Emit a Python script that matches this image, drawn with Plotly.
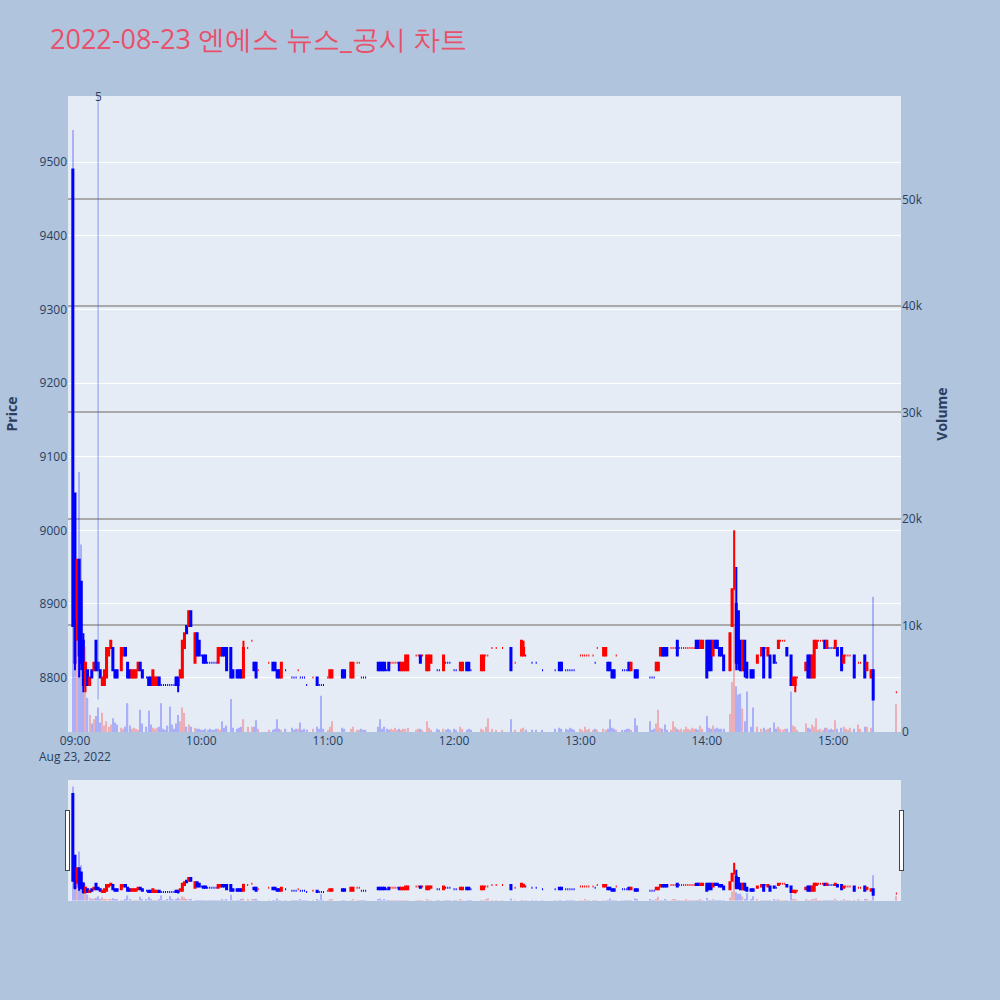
import datetime as dt
import plotly.graph_objects as go

# minutes after 09:00 for each 1-minute bar
minutes = [-1, 0, 1, 2, 3, 4, 5, 6, 7, 8, 9, 10, 11, 12, 13, 14, 15, 16, 17, 18, 19, 20,
           22, 23, 24, 25, 26, 27, 28, 29, 30, 31, 32, 34, 35, 36, 37, 38, 39, 40,
           41, 42, 43, 44, 45, 46, 47, 48, 49, 50, 51, 52, 53, 54, 55, 57, 58, 59, 60,
           61, 62, 63, 64, 65, 66, 67, 68, 69, 70, 71, 72, 74, 75, 77, 78, 79, 80, 82,
           84, 85, 86, 87, 92, 94, 95, 96, 97, 98, 100, 103, 104, 105, 106, 107, 108,
           109, 110, 113, 115, 116, 117, 118, 120, 121, 122, 127, 128, 131, 132, 134,
           135, 136, 137, 138, 144, 145, 146, 147, 148, 149, 150, 151, 152, 153, 154,
           155, 156, 157, 158, 162, 163, 164, 165, 167, 168, 169, 172, 173, 175, 176,
           177, 178, 180, 181, 183, 184, 186, 187, 188, 193, 194, 195, 196, 198, 200,
           203, 207, 209, 212, 213, 214, 217, 219, 222, 228, 230, 231, 233, 234, 235,
           236, 237, 240, 241, 242, 243, 244, 246, 247, 248, 251, 252, 253, 254, 255,
           256, 257, 260, 261, 262, 263, 264, 266, 267, 273, 274, 275, 276, 277, 278,
           279, 280, 281, 283, 284, 285, 286, 287, 288, 289, 290, 291, 292, 293, 294,
           295, 296, 297, 298, 300, 301, 302, 303, 304, 305, 306, 307, 308, 311, 312,
           313, 314, 315, 316, 317, 318, 319, 321, 322, 324, 326, 327, 328, 329, 330,
           332, 333, 334, 335, 336, 337, 338, 340, 341, 342, 343, 347, 348, 349, 350,
           351, 352, 353, 354, 355, 356, 357, 358, 359, 360, 361, 362, 364, 365, 366,
           367, 368, 370, 372, 373, 375, 376, 378, 379, 390]

opens = [9490, 9050, 8880, 8960, 8930, 8850, 8790, 8810, 8790, 8810, 8810, 8850, 8820, 8810, 8790, 8790, 8800, 8830, 8840, 8840, 8810, 8810,
         8810, 8830, 8840, 8820, 8810, 8800, 8800, 8800, 8810, 8820, 8810, 8800, 8800, 8800, 8790, 8790, 8790, 8800,
         8790, 8790, 8790, 8790, 8790, 8790, 8790, 8800, 8800, 8800, 8800, 8840, 8870, 8870, 8890, 8820, 8860, 8850, 8830,
         8830, 8830, 8820, 8820, 8820, 8820, 8820, 8820, 8830, 8840, 8840, 8840, 8840, 8810, 8810, 8810, 8810, 8800, 8840,
         8850, 8820, 8820, 8810, 8820, 8820, 8820, 8810, 8810, 8800, 8810, 8800, 8800, 8800, 8810, 8800, 8800,
         8800, 8790, 8800, 8800, 8790, 8790, 8790, 8800, 8800, 8800, 8810, 8810, 8800, 8800, 8820,
         8820, 8800, 8800, 8800, 8820, 8820, 8820, 8820, 8810, 8820, 8820, 8820, 8820, 8820, 8820,
         8810, 8810, 8810, 8810, 8830, 8830, 8830, 8830, 8810, 8810, 8820, 8810, 8810, 8810, 8820,
         8820, 8820, 8810, 8810, 8810, 8810, 8820, 8820, 8810, 8810, 8810, 8830, 8830, 8840, 8840,
         8840, 8840, 8820, 8830, 8830, 8830, 8820, 8820, 8810, 8810, 8820, 8820, 8810, 8810, 8810,
         8810, 8810, 8830, 8830, 8830, 8830, 8830, 8830, 8820, 8840, 8830, 8830, 8820, 8820, 8810,
         8810, 8830, 8810, 8810, 8810, 8820, 8810, 8810, 8810, 8800, 8800, 8800, 8810, 8810, 8830,
         8840, 8840, 8840, 8840, 8840, 8840, 8850, 8840, 8840, 8840, 8840, 8840, 8840, 8840, 8840,
         8850, 8850, 8840, 8840, 8850, 8850, 8850, 8830, 8850, 8850, 8840, 8840, 8830, 8810, 8870,
         8920, 8900, 8890, 8850, 8810, 8850, 8820, 8810, 8810, 8820, 8830, 8840, 8840, 8830, 8830,
         8830, 8820, 8840, 8850, 8850, 8850, 8840, 8830, 8790, 8790, 8800, 8810, 8830, 8830, 8800,
         8800, 8840, 8850, 8850, 8850, 8850, 8840, 8840, 8840, 8840, 8840, 8840, 8840, 8820, 8830,
         8830, 8830, 8830, 8820, 8820, 8830, 8810, 8800, 8810, 8780]

highs = [9490, 9050, 8960, 8960, 8930, 8860, 8820, 8810, 8800, 8810, 8820, 8850, 8820, 8810, 8800, 8810, 8840, 8840, 8850, 8840, 8810, 8810,
         8840, 8840, 8840, 8820, 8810, 8810, 8810, 8810, 8820, 8820, 8810, 8800, 8800, 8800, 8810, 8800, 8800, 8800,
         8790, 8790, 8790, 8790, 8790, 8790, 8790, 8800, 8800, 8810, 8850, 8860, 8870, 8890, 8890, 8860, 8860, 8850, 8830,
         8830, 8830, 8820, 8820, 8820, 8820, 8820, 8840, 8840, 8840, 8840, 8840, 8840, 8810, 8810, 8810, 8810, 8850, 8840,
         8850, 8820, 8820, 8810, 8820, 8820, 8820, 8810, 8810, 8820, 8810, 8800, 8800, 8800, 8810, 8800, 8800,
         8800, 8790, 8800, 8800, 8790, 8790, 8790, 8800, 8810, 8810, 8810, 8810, 8820, 8820, 8820,
         8820, 8800, 8800, 8800, 8820, 8820, 8820, 8820, 8810, 8820, 8820, 8820, 8820, 8820, 8820,
         8820, 8820, 8830, 8830, 8830, 8830, 8830, 8830, 8830, 8830, 8830, 8810, 8810, 8830, 8820,
         8820, 8820, 8810, 8810, 8820, 8820, 8820, 8820, 8810, 8830, 8830, 8830, 8830, 8840, 8840,
         8840, 8840, 8820, 8850, 8850, 8830, 8820, 8820, 8810, 8810, 8820, 8820, 8810, 8810, 8810,
         8810, 8810, 8830, 8830, 8830, 8830, 8830, 8830, 8820, 8840, 8840, 8840, 8820, 8820, 8810,
         8810, 8830, 8810, 8810, 8810, 8820, 8820, 8810, 8810, 8800, 8800, 8800, 8820, 8820, 8840,
         8840, 8840, 8840, 8840, 8840, 8840, 8850, 8840, 8840, 8840, 8840, 8840, 8840, 8840, 8840,
         8850, 8850, 8850, 8850, 8850, 8850, 8850, 8850, 8850, 8850, 8840, 8840, 8830, 8860, 8920,
         9000, 8950, 8890, 8850, 8850, 8850, 8820, 8810, 8810, 8830, 8840, 8840, 8840, 8840, 8830,
         8830, 8820, 8850, 8850, 8850, 8850, 8840, 8830, 8800, 8800, 8800, 8820, 8830, 8830, 8830,
         8850, 8850, 8850, 8850, 8850, 8850, 8850, 8840, 8840, 8840, 8850, 8840, 8840, 8830, 8830,
         8830, 8830, 8830, 8820, 8820, 8830, 8820, 8810, 8810, 8780]

lows = [8870, 8810, 8850, 8800, 8810, 8780, 8780, 8790, 8790, 8800, 8810, 8810, 8810, 8800, 8790, 8790, 8800, 8830, 8840, 8810, 8800, 8800,
        8810, 8830, 8830, 8800, 8800, 8800, 8800, 8800, 8810, 8810, 8800, 8800, 8790, 8790, 8790, 8790, 8790, 8790,
        8790, 8790, 8790, 8790, 8790, 8790, 8790, 8790, 8780, 8800, 8800, 8840, 8860, 8870, 8870, 8820, 8830, 8830, 8830,
        8820, 8820, 8820, 8820, 8820, 8820, 8820, 8820, 8830, 8830, 8830, 8810, 8800, 8800, 8800, 8800, 8800, 8800, 8840,
        8850, 8810, 8800, 8810, 8820, 8810, 8810, 8800, 8800, 8800, 8810, 8800, 8800, 8800, 8810, 8800, 8800,
        8800, 8790, 8800, 8790, 8790, 8790, 8790, 8800, 8800, 8800, 8800, 8800, 8800, 8800, 8820,
        8820, 8800, 8800, 8800, 8810, 8810, 8810, 8810, 8810, 8810, 8820, 8820, 8820, 8820, 8810,
        8810, 8810, 8810, 8810, 8830, 8830, 8820, 8830, 8810, 8810, 8820, 8810, 8810, 8810, 8820,
        8820, 8820, 8810, 8810, 8810, 8810, 8810, 8810, 8810, 8810, 8810, 8830, 8830, 8840, 8840,
        8840, 8810, 8820, 8830, 8830, 8830, 8820, 8820, 8810, 8810, 8810, 8810, 8810, 8810, 8810,
        8810, 8810, 8830, 8830, 8830, 8830, 8830, 8830, 8820, 8840, 8830, 8830, 8810, 8810, 8800,
        8800, 8830, 8810, 8810, 8810, 8810, 8810, 8800, 8800, 8800, 8800, 8800, 8810, 8810, 8830,
        8830, 8830, 8830, 8840, 8840, 8840, 8830, 8840, 8840, 8840, 8840, 8840, 8840, 8840, 8840,
        8840, 8840, 8840, 8840, 8800, 8810, 8810, 8830, 8840, 8840, 8830, 8830, 8810, 8810, 8870,
        8920, 8810, 8810, 8810, 8810, 8800, 8800, 8800, 8800, 8820, 8830, 8800, 8840, 8830, 8800,
        8820, 8820, 8840, 8850, 8850, 8850, 8830, 8790, 8790, 8780, 8800, 8810, 8800, 8800, 8800,
        8800, 8840, 8850, 8850, 8850, 8840, 8840, 8840, 8840, 8840, 8840, 8830, 8810, 8820, 8830,
        8830, 8830, 8800, 8820, 8820, 8800, 8810, 8800, 8770, 8780]

closes = [8870, 8820, 8960, 8830, 8820, 8790, 8820, 8790, 8800, 8800, 8820, 8810, 8810, 8800, 8800, 8810, 8840, 8840, 8850, 8810, 8800, 8800,
          8840, 8840, 8830, 8800, 8800, 8810, 8810, 8810, 8820, 8810, 8800, 8800, 8790, 8790, 8810, 8800, 8800, 8790,
          8790, 8790, 8790, 8790, 8790, 8790, 8790, 8790, 8790, 8810, 8850, 8860, 8860, 8890, 8870, 8860, 8830, 8830, 8830,
          8820, 8820, 8820, 8820, 8820, 8820, 8820, 8840, 8840, 8830, 8830, 8810, 8800, 8800, 8800, 8800, 8800, 8840, 8840,
          8850, 8810, 8800, 8810, 8820, 8810, 8810, 8800, 8800, 8820, 8810, 8800, 8800, 8800, 8810, 8800, 8800,
          8800, 8790, 8800, 8790, 8790, 8790, 8790, 8800, 8810, 8810, 8800, 8800, 8820, 8820, 8820,
          8820, 8800, 8800, 8800, 8810, 8810, 8810, 8810, 8810, 8810, 8820, 8820, 8820, 8820, 8810,
          8820, 8820, 8830, 8830, 8830, 8830, 8820, 8830, 8830, 8830, 8830, 8810, 8810, 8830, 8820,
          8820, 8820, 8810, 8810, 8820, 8820, 8810, 8810, 8810, 8830, 8830, 8830, 8830, 8840, 8840,
          8840, 8810, 8820, 8850, 8840, 8830, 8820, 8820, 8810, 8810, 8810, 8810, 8810, 8810, 8810,
          8810, 8810, 8830, 8830, 8830, 8830, 8830, 8830, 8820, 8840, 8840, 8840, 8810, 8810, 8800,
          8800, 8830, 8810, 8810, 8810, 8810, 8820, 8800, 8800, 8800, 8800, 8800, 8820, 8820, 8840,
          8830, 8830, 8830, 8840, 8840, 8840, 8830, 8840, 8840, 8840, 8840, 8840, 8840, 8840, 8840,
          8840, 8840, 8850, 8850, 8800, 8810, 8810, 8850, 8840, 8840, 8830, 8830, 8810, 8860, 8920,
          8920, 8820, 8820, 8810, 8850, 8810, 8800, 8800, 8800, 8830, 8840, 8800, 8840, 8840, 8800,
          8820, 8820, 8850, 8850, 8850, 8850, 8830, 8790, 8800, 8800, 8800, 8820, 8800, 8800, 8830,
          8850, 8850, 8850, 8850, 8850, 8840, 8850, 8840, 8840, 8840, 8850, 8830, 8810, 8830, 8830,
          8830, 8830, 8800, 8820, 8820, 8800, 8820, 8810, 8770, 8780]

volumes = [56500, 10000, 9000, 24400, 17600, 8500, 8000, 3200, 1600, 800, 1200, 1500, 2300, 900, 1800, 600, 1000, 500, 700, 1300, 900, 700,
           400, 300, 500, 2700, 600, 300, 400, 300, 200, 2100, 800, 500, 2000, 700, 400, 300, 400, 500,
           2700, 300, 200, 600, 2400, 700, 300, 800, 1600, 1000, 2300, 1800, 500, 700, 500, 400, 300, 300, 200,
           200, 300, 200, 300, 200, 200, 300, 300, 200, 1000, 400, 600, 3100, 400, 300, 400, 500, 1200, 500,
           500, 500, 1100, 300, 200, 200, 300, 1200, 300, 200, 300, 400, 200, 300, 300, 900, 200,
           300, 200, 300, 500, 300, 3400, 300, 200, 500, 1000, 400, 300, 300, 500, 200,
           200, 300, 200, 200, 500, 1200, 300, 500, 300, 200, 300, 200, 400, 200, 300,
           200, 300, 300, 400, 200, 300, 300, 200, 1000, 400, 200, 300, 200, 300, 200,
           300, 200, 300, 200, 500, 300, 200, 300, 200, 300, 200, 500, 1300, 300, 200,
           200, 1200, 200, 300, 400, 200, 200, 200, 200, 300, 400, 300, 300, 200, 400,
           300, 200, 300, 200, 500, 200, 300, 200, 300, 200, 300, 200, 300, 1200, 400,
           300, 200, 200, 200, 300, 300, 200, 1300, 600, 1000, 200, 300, 800, 2100, 400,
           300, 700, 200, 200, 1000, 500, 300, 200, 300, 200, 500, 300, 200, 400, 300,
           300, 200, 600, 300, 1500, 400, 300, 600, 300, 400, 300, 300, 300, 1700, 4700,
           18800, 4300, 3500, 3600, 2200, 1000, 3800, 500, 2300, 500, 300, 400, 200, 300, 400,
           900, 300, 500, 300, 200, 300, 300, 3800, 600, 500, 200, 800, 400, 300, 700,
           500, 1300, 200, 300, 200, 400, 400, 200, 300, 200, 1100, 300, 400, 500, 300,
           200, 400, 300, 700, 300, 500, 500, 400, 12700, 2600]

marker_minute = 11        # 09:11 news marker
marker_label = "5"
marker_low = 8770

price_range = [8726, 9590]
volume_range = [0, 59700]
x_range_minutes = [-3.3, 392.2]

base = dt.datetime(2022, 8, 23, 9, 0)
times = [base + dt.timedelta(minutes=m) for m in minutes]
x_range = [base + dt.timedelta(minutes=v) for v in x_range_minutes]

# volume colours follow candle direction
vol_colors = []
prev_c, prev_dir = None, 1
for o, c in zip(opens, closes):
    if c > o:
        d = 1
    elif c < o:
        d = -1
    else:
        if prev_c is None or c == prev_c:
            d = prev_dir
        else:
            d = 1 if c > prev_c else -1
    vol_colors.append("red" if d == 1 else "blue")
    prev_c, prev_dir = c, d

fig = go.Figure()
fig.add_trace(go.Candlestick(
    x=times, open=opens, high=highs, low=lows, close=closes,
    increasing=dict(line=dict(color="red"), fillcolor="red"),
    decreasing=dict(line=dict(color="blue"), fillcolor="blue"),
    name="Price", showlegend=False,
))
fig.add_trace(go.Bar(
    x=times, y=volumes, marker=dict(color=vol_colors, line=dict(width=0)),
    opacity=0.25, yaxis="y2", name="Volume", showlegend=False,
))

mt = base + dt.timedelta(minutes=marker_minute)
fig.add_shape(type="line", xref="x", yref="y", x0=mt, x1=mt,
              y0=marker_low, y1=price_range[1],
              line=dict(color="rgba(65,105,225,0.4)", width=1.5))
fig.add_annotation(x=mt, xref="x", y=1, yref="paper", text=marker_label,
                   showarrow=False, xanchor="center", yanchor="middle",
                   font=dict(size=12, color="#2a3f5f"))

fig.update_layout(
    template="plotly",
    width=1000, height=1000,
    paper_bgcolor="#B0C4DE",
    plot_bgcolor="#E5ECF6",
    title=dict(text="2022-08-23 엔에스 뉴스_공시 차트", x=0.05, y=0.96,
               xanchor="left", yanchor="middle",
               font=dict(size=27, color="#E9506A")),
    margin=dict(l=68, r=99, t=96, b=100),
    bargap=0.4,
    xaxis=dict(type="date", showgrid=False, range=x_range,
               rangeslider=dict(visible=True, range=x_range)),
    yaxis=dict(title=dict(text="<b>Price</b>", font=dict(size=14), standoff=18),
               range=price_range, dtick=100, gridcolor="white"),
    yaxis2=dict(title=dict(text="<b>Volume</b>", font=dict(size=14)),
                overlaying="y", side="right", range=volume_range,
                gridcolor="#A9A9A9", gridwidth=2, zeroline=False),
)

fig.write_html("out.html", config={"displayModeBar": False},
               post_script="document.body.style.margin='0px';")
